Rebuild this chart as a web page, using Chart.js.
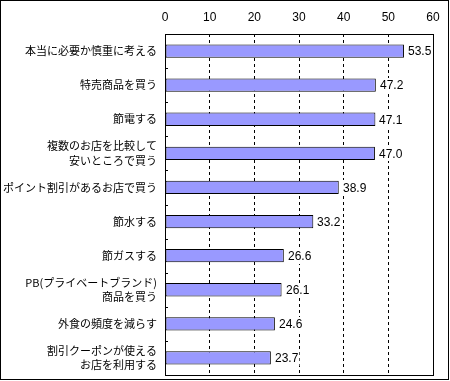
<!DOCTYPE html>
<html>
<head>
<meta charset="utf-8">
<script src="https://cdn.jsdelivr.net/npm/chart.js@4.4.0/dist/chart.umd.min.js"></script>
<style>
    html, body { margin: 0; padding: 0; background: #fff; }
    #wrap { width: 450px; height: 381px; position: relative; }
</style>
</head>
<body>
<div id="wrap"><canvas id="chart1"></canvas></div>
<script>
var categories = [
    "本当に必要か慎重に考える",
    "特売商品を買う",
    "節電する",
    ["複数のお店を比較して", "安いところで買う"],
    "ポイント割引があるお店で買う",
    "節水する",
    "節ガスする",
    ["PB(プライベートブランド)", "商品を買う"],
    "外食の頻度を減らす",
    ["割引クーポンが使える", "お店を利用する"],
];
var values = [53.5, 47.2, 47.1, 47.0, 38.9, 33.2, 26.6, 26.1, 24.6, 23.7];
var xMin = 0;
var xMax = 60;
var xStep = 10;

var numFont = '"Liberation Sans", Arial, sans-serif';
var jpFont = '"Noto Sans CJK JP", sans-serif';

// frame, inner ticks on the y axis and value labels
var framePlugin = {
    id: "frame",
    afterDraw: function (chart) {
        var ctx = chart.ctx;
        var a = chart.chartArea;
        ctx.save();
        ctx.strokeStyle = "#000";
        ctx.lineWidth = 1;
        ctx.strokeRect(Math.round(a.left) + 0.5, Math.round(a.top) + 0.5,
            Math.round(a.right - a.left), Math.round(a.bottom - a.top));
        ctx.strokeRect(0.5, 0.5, 448, 379);

        // small ticks between categories
        var n = categories.length;
        var h = (a.bottom - a.top) / n;
        ctx.beginPath();
        for (var i = 1; i < n; i++) {
            var y = Math.round(a.top + i * h) + 0.5;
            ctx.moveTo(a.left, y);
            ctx.lineTo(a.left + 3, y);
        }
        ctx.stroke();

        // value labels on white boxes
        var meta = chart.getDatasetMeta(0);
        ctx.font = "12px " + numFont;
        ctx.textAlign = "left";
        ctx.textBaseline = "middle";
        meta.data.forEach(function (bar, i) {
            var txt = values[i].toFixed(1);
            var w = ctx.measureText(txt).width;
            var x0 = Math.round(bar.x) + 3;
            ctx.fillStyle = "#fff";
            ctx.fillRect(x0, Math.round(bar.y) - 7, w + 2, 15);
            ctx.fillStyle = "#000";
            ctx.fillText(txt, x0 + 1, bar.y + 1);
        });
        ctx.restore();
    },
};

var ctx = document.getElementById("chart1").getContext("2d");
var myBarChart = new Chart(ctx, {
    type: "bar",
    data: {
        labels: categories,
        datasets: [
            {
                label: "",
                data: values,
                backgroundColor: "#9999FF",
                borderColor: "#000",
                borderWidth: 1,
                borderSkipped: false,
                categoryPercentage: 1,
                barPercentage: 0.39,
            },
        ],
    },
    options: {
        indexAxis: "y",
        responsive: true,
        maintainAspectRatio: false,
        animation: false,
        layout: {
            padding: { left: 0, right: 17, top: 0, bottom: 6 },
        },
        plugins: {
            legend: { display: false },
            tooltip: { enabled: false },
        },
        scales: {
            x: {
                position: "top",
                min: xMin,
                max: xMax,
                ticks: {
                    stepSize: xStep,
                    color: "#000",
                    padding: 9,
                    font: { family: numFont, size: 12 },
                },
                grid: {
                    drawTicks: false,
                    color: function (c) {
                        if (c.tick && (c.tick.value === xMin || c.tick.value === xMax)) {
                            return "rgba(0,0,0,0)";
                        }
                        return "#000";
                    },
                },
                border: { display: false, dash: [3, 3] },
                afterFit: function (s) {
                    s.height = 34;
                    s.paddingLeft = 0;
                    s.paddingRight = 0;
                },
            },
            y: {
                ticks: {
                    color: "#000",
                    padding: 8,
                    font: { family: jpFont, size: 11, lineHeight: 1.3 },
                },
                grid: { display: false, drawTicks: false },
                border: { display: false },
                afterFit: function (s) {
                    s.width = 165;
                    s.paddingTop = 0;
                    s.paddingBottom = 0;
                },
            },
        },
    },
    plugins: [framePlugin],
});
</script>
</body>
</html>
